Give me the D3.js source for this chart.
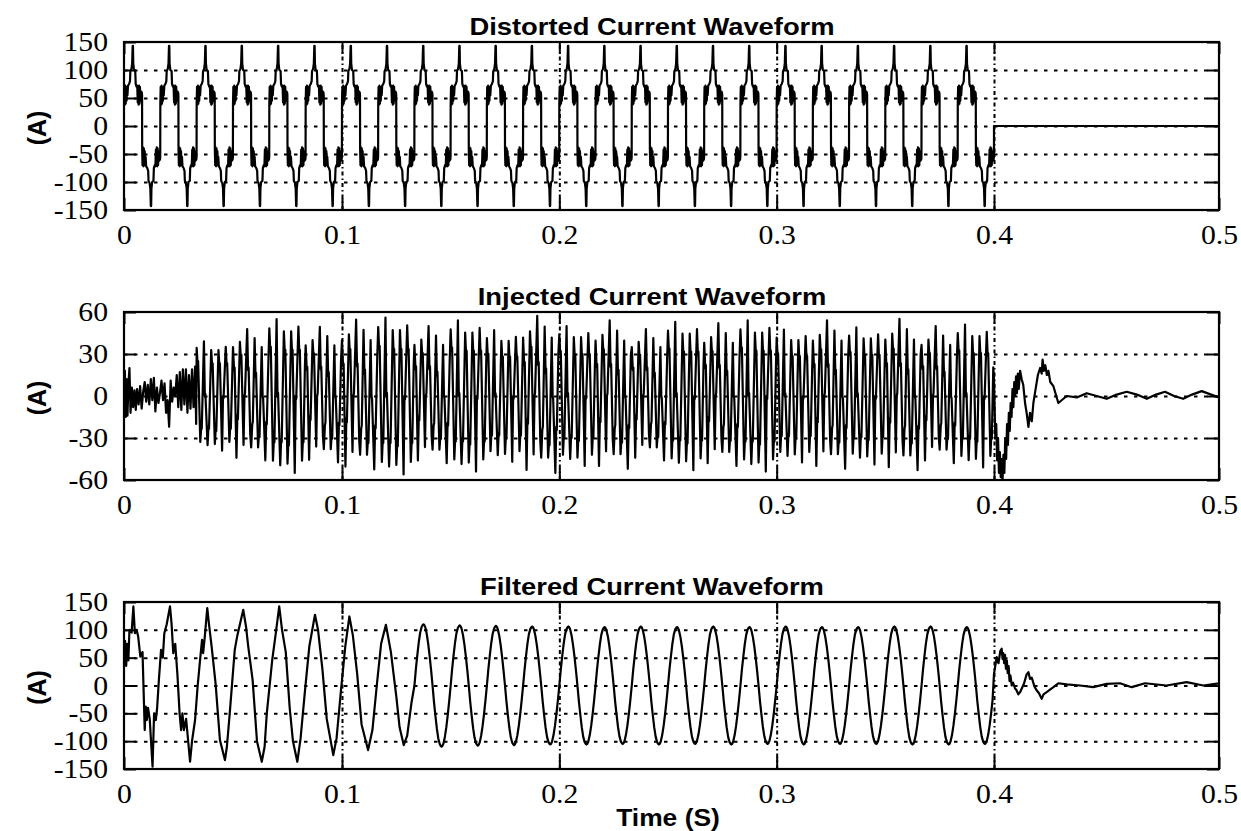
<!DOCTYPE html>
<html><head><meta charset="utf-8">
<script src="https://cdn.jsdelivr.net/npm/d3@7"></script>
<style>body{margin:0;background:#fff}</style>
</head><body>
<svg id="c" width="1241" height="831"></svg>
<script>
// ================= DATA =================
const xTicks = [0, 0.1, 0.2, 0.3, 0.4, 0.5];
const xTickLabels = ["0", "0.1", "0.2", "0.3", "0.4", "0.5"];
const titles = ["Distorted Current Waveform", "Injected Current Waveform", "Filtered Current Waveform"];
const yLabel = "(A)";
const xLabel = "Time (S)";
const yTicksTop = [150, 100, 50, 0, -50, -100, -150];
const yTicksMid = [60, 30, 0, -30, -60];
const yTicksBot = [150, 100, 50, 0, -50, -100, -150];
const lineFrequency = 60;      // Hz, cycles seen in the picture
const cyclesBeforeOff = 24;    // cycles between 0 and 0.4 s

// Distorted current: one cycle [phase, A]
const distortedCycle = [
  [0.000, 40], [0.010, 70], [0.022, 38], [0.034, 72], [0.046, 40], [0.058, 70], [0.070, 45], [0.082, 68],
  [0.095, 55], [0.110, 72], [0.140, 75], [0.165, 80], [0.175, 98], [0.205, 102], [0.225, 112], [0.238, 143],
  [0.247, 143], [0.255, 112], [0.275, 100], [0.310, 98], [0.322, 75], [0.345, 70], [0.365, 72], [0.378, 42],
  [0.390, 70], [0.402, 38], [0.414, 72], [0.426, 40], [0.438, 70], [0.450, 45], [0.465, 62], [0.490, 60], [0.497, 55],
  [0.500, -40], [0.510, -70], [0.522, -38], [0.534, -72], [0.546, -40], [0.558, -70], [0.570, -45], [0.582, -68],
  [0.595, -55], [0.610, -72], [0.640, -75], [0.665, -80], [0.675, -98], [0.705, -102], [0.725, -112], [0.738, -143],
  [0.747, -143], [0.755, -112], [0.775, -100], [0.810, -98], [0.822, -75], [0.845, -70], [0.865, -72], [0.878, -42],
  [0.890, -70], [0.902, -38], [0.914, -72], [0.926, -40], [0.938, -70], [0.950, -45], [0.965, -62], [0.990, -60], [0.997, -55]
];
const distortedAfterOff = [[0.4, -55], [0.4, 0], [0.5, 0]];

// Injected current: start-up section (0 - 1/30 s) [s, A]
const injectedStartup = [
  [0.0000, 5], [0.0004, 18], [0.0008, -15], [0.0012, 12], [0.0016, -14], [0.0020, 8], [0.0025, 20], [0.0030, -12],
  [0.0036, 6], [0.0042, -8], [0.0048, 4], [0.0054, -10], [0.0060, 5], [0.0067, -6], [0.0074, 7], [0.0081, -9],
  [0.0088, 3], [0.0095, 10], [0.0102, -4], [0.0109, 8], [0.0116, -6], [0.0123, 12], [0.0130, -3], [0.0137, 13],
  [0.0144, -11], [0.0151, 6], [0.0158, -5], [0.0165, 2], [0.0172, 11], [0.0179, -3], [0.0186, 9], [0.0193, -12],
  [0.0200, -3], [0.0207, -22], [0.0214, 11], [0.0221, -4], [0.0228, 6], [0.0235, 0], [0.0242, 15], [0.0249, -8],
  [0.0256, 17], [0.0263, -10], [0.0270, 19], [0.0277, -6], [0.0284, 19], [0.0291, -12], [0.0298, 15], [0.0305, -9],
  [0.0312, 19], [0.0319, -8], [0.0326, 21], [0.0331, -20]
];
// Injected current: two steady cycle shapes seen in the picture [phase, A]
const injectedCycleA = [
  [0.000, 44], [0.025, 30], [0.040, 32], [0.100, -42], [0.125, -28], [0.140, -30], [0.200, 50], [0.225, 0],
  [0.240, 2], [0.300, -45], [0.325, -28], [0.340, -30], [0.400, 42], [0.425, 28], [0.440, 30], [0.480, -20],
  [0.500, -44], [0.525, -30], [0.540, -32], [0.600, 42], [0.625, 28], [0.640, 30], [0.700, -50], [0.725, 0],
  [0.740, -2], [0.800, 45], [0.825, 28], [0.840, 30], [0.900, -42], [0.925, -28], [0.940, -30], [0.980, 20]
];
const injectedCycleB = [
  [0.000, 38], [0.030, 20], [0.045, 22], [0.095, -48], [0.120, -15], [0.135, -18], [0.190, 42], [0.215, 30],
  [0.230, 32], [0.290, -38], [0.315, 0], [0.330, 2], [0.390, 52], [0.415, 20], [0.430, 22], [0.475, -30],
  [0.500, -40], [0.530, -22], [0.545, -20], [0.595, 45], [0.620, 15], [0.635, 18], [0.690, -40], [0.715, -30],
  [0.730, -32], [0.790, 38], [0.815, 0], [0.830, -2], [0.890, -50], [0.915, -20], [0.930, -22], [0.975, 28]
];
// Injected current: which shape (0 = A, 1 = B) and its size, for cycles 2..23
const injectedCycleShape = [0, 1, 0, 1, 1, 0, 1, 0, 0, 1, 0, 1, 1, 0, 1, 0, 0, 1, 0, 1, 1, 0];
const injectedCycleGain = [0.78, 0.92, 1.1, 0.95, 1.05, 1.12, 0.96, 1.08, 0.94, 1.1, 1.0, 1.04, 0.92, 1.06, 1.0, 1.08, 0.95, 1.04, 0.98, 1.06, 0.96, 1.02];
// Injected current after the load is switched off [s, A]
const injectedAfterOff = [
  [0.4000, 12], [0.4006, -30], [0.4010, -20], [0.4014, -46], [0.4018, -30], [0.4022, -55], [0.4026, -40], [0.4030, -58],
  [0.4034, -45], [0.4038, -60], [0.4042, -42], [0.4046, -55], [0.4050, -30], [0.4054, -45], [0.4058, -20], [0.4062, -35],
  [0.4066, -12], [0.4070, -25], [0.4074, -5], [0.4078, -15], [0.4082, 5], [0.4086, -8], [0.4090, 10], [0.4094, 0],
  [0.4098, 14], [0.4102, 2], [0.4106, 16], [0.4110, 5], [0.4116, 18], [0.4123, 12], [0.4130, 8], [0.4138, -5],
  [0.4145, -12], [0.4153, -22], [0.4160, -12], [0.4168, -18], [0.4175, -5], [0.4182, 2], [0.4195, 15], [0.4205, 20],
  [0.4212, 16], [0.4216, 26], [0.4222, 18], [0.4228, 22], [0.4235, 15], [0.4242, 18], [0.4250, 10], [0.4264, 7],
  [0.4286, -5], [0.4323, 0], [0.4368, -1], [0.4412, 2], [0.4456, 0], [0.4501, -2], [0.4545, 1], [0.4590, 3],
  [0.4635, 1], [0.4679, -2], [0.4720, 1], [0.4760, 3], [0.4800, 0], [0.4841, -2], [0.4880, 1], [0.4923, 3.5], [0.5000, -1]
];

// Filtered current: start-up section (0 - 8/60 s) [s, A]
const filteredStartup = [
  [0, 52], [0.0005, 80], [0.001, 35], [0.0015, 75], [0.002, 45], [0.0025, 100], [0.0035, 95], [0.0043, 142],
  [0.0050, 94], [0.0058, 100], [0.0065, 88], [0.0075, 52], [0.0085, 60], [0.0095, -80], [0.0100, -38], [0.0105, -62],
  [0.0110, -40], [0.0118, -60], [0.0124, -100], [0.0131, -146], [0.0138, -50], [0.0146, -62], [0.0152, -40], [0.0160, 10],
  [0.0170, 64], [0.0178, 50], [0.0185, 94], [0.0196, 110], [0.0211, 142], [0.0218, 112], [0.0226, 58], [0.0235, 75],
  [0.0245, 20], [0.0255, -50], [0.0262, -80], [0.0268, -50], [0.0275, -80], [0.0285, -60], [0.0303, -137], [0.0312, -100],
  [0.0326, -62], [0.0338, 0], [0.0349, 46], [0.0358, 82], [0.0363, 58], [0.0370, 85], [0.0382, 139], [0.0390, 110],
  [0.0402, 70], [0.0420, 4], [0.0440, -98], [0.0463, -134], [0.0472, -110], [0.0485, -50], [0.0508, 64], [0.0520, 90],
  [0.0547, 136], [0.0560, 105], [0.0570, 70], [0.0590, 10], [0.0610, -100], [0.0632, -137], [0.0645, -110], [0.0655, -50],
  [0.0680, 46], [0.0695, 90], [0.0712, 142], [0.0725, 100], [0.0742, 60], [0.0760, -40], [0.0775, -100], [0.0795, -137],
  [0.0810, -95], [0.0830, -10], [0.0850, 70], [0.0876, 127], [0.0890, 100], [0.0910, 30], [0.0930, -60], [0.0960, -125],
  [0.0975, -95], [0.0995, -10], [0.1015, 70], [0.1034, 124], [0.1050, 90], [0.1070, 20], [0.1090, -70], [0.1120, -116],
  [0.1140, -80], [0.1160, 0], [0.1180, 75], [0.1202, 109], [0.1225, 60], [0.1250, -20], [0.1265, -75], [0.1284, -107],
  [0.1300, -90], [0.1320, -30]
];
// Filtered current: steady cycle shape, relative to the cycle peak [phase, fraction]
const filteredCycle = [
  [0.00, 0], [0.04, 0.27], [0.08, 0.50], [0.12, 0.71], [0.16, 0.87], [0.20, 0.96], [0.23, 0.99], [0.25, 1.0],
  [0.27, 0.99], [0.30, 0.95], [0.34, 0.84], [0.38, 0.68], [0.42, 0.48], [0.46, 0.25],
  [0.50, 0], [0.54, -0.27], [0.58, -0.50], [0.62, -0.71], [0.66, -0.87], [0.70, -0.96], [0.73, -0.99], [0.75, -1.0],
  [0.77, -0.99], [0.80, -0.95], [0.84, -0.84], [0.88, -0.68], [0.92, -0.48], [0.96, -0.25]
];
// Filtered current: peak value of cycles 8..23 (A)
const filteredCyclePeak = [110, 108, 107, 106, 106, 105, 106, 105, 106, 105, 106, 105, 105, 106, 106, 105];
// Filtered current after the load is switched off [s, A]
const filteredAfterOff = [
  [0.4000, 21], [0.4012, 51], [0.4020, 40], [0.4028, 62], [0.4034, 66], [0.4038, 48], [0.4041, 58], [0.4045, 40],
  [0.4049, 55], [0.4053, 30], [0.4057, 45], [0.4061, 22], [0.4065, 35], [0.4069, 8], [0.4073, 18], [0.4079, 0],
  [0.4085, 5], [0.4093, -5], [0.4101, -9], [0.4108, -16], [0.4116, -12], [0.4133, 3], [0.4145, 20], [0.4153, 24],
  [0.4160, 12], [0.4168, 14], [0.4180, -2], [0.4190, -9], [0.4200, -14], [0.4212, -24], [0.4220, -16], [0.4234, -12],
  [0.4264, -3], [0.4286, 4], [0.4323, 2], [0.4382, 0], [0.4441, -3], [0.4501, 3], [0.4560, 4], [0.4612, -3],
  [0.4671, 4], [0.4767, 0], [0.4856, 6], [0.4930, 0], [0.5000, 4]
];

// ================= BUILD SERIES =================
function tile(cycleFor, firstCycle, lastCycle, gainFn) {
  const out = [];
  for (let k = firstCycle; k <= lastCycle; k++) {
    const g = gainFn(k);
    cycleFor(k).forEach(([ph, v]) => out.push([(k + ph) / lineFrequency, v * g]));
  }
  return out;
}
const distortedSeries = tile(() => distortedCycle, 0, cyclesBeforeOff - 1, () => 1).concat(distortedAfterOff);
const injectedShapes = [injectedCycleA, injectedCycleB];
const injectedSeries = injectedStartup
  .concat(tile(k => injectedShapes[injectedCycleShape[k - 2]], 2, cyclesBeforeOff - 1, k => injectedCycleGain[k - 2]))
  .concat(injectedAfterOff);
const filteredSeries = filteredStartup
  .concat(tile(() => filteredCycle, 8, cyclesBeforeOff - 1, k => filteredCyclePeak[k - 8]))
  .concat(filteredAfterOff);

// ================= DRAW =================
const svg = d3.select("#c");
const W = 1241, H = 831;
svg.append("rect").attr("width", W).attr("height", H).attr("fill", "#fff");

// the scan is slightly stretched towards the right, follow its tick positions
const x = d3.scaleLinear().domain([0, 0.1, 0.4, 0.5]).range([124, 342, 994, 1219]);
const X0 = 124, X1 = 1219;

const panels = [
  { top: 42, bottom: 210, dom: [-150, 150], ticks: yTicksTop, title: titles[0], data: distortedSeries, titleY: 35 },
  { top: 312, bottom: 480, dom: [-60, 60], ticks: yTicksMid, title: titles[1], data: injectedSeries, titleY: 305 },
  { top: 602, bottom: 769, dom: [-150, 150], ticks: yTicksBot, title: titles[2], data: filteredSeries, titleY: 595 }
];

const SERIF = "'Liberation Serif','Times New Roman',serif";
const SANS = "'Liberation Sans',Arial,Helvetica,sans-serif";

panels.forEach((p, i) => {
  const y = d3.scaleLinear().domain(p.dom).range([p.bottom, p.top]);
  const g = svg.append("g");
  const clipId = "clip" + i;
  svg.append("clipPath").attr("id", clipId).append("rect")
    .attr("x", X0).attr("y", p.top).attr("width", X1 - X0).attr("height", p.bottom - p.top);

  // horizontal grid
  const inner = p.ticks.filter(t => t !== p.dom[0] && t !== p.dom[1]);
  g.append("g").attr("transform", `translate(${X0},0)`)
    .call(d3.axisLeft(y).tickValues(inner).tickSize(-(X1 - X0)).tickFormat(""))
    .call(s => s.select(".domain").remove())
    .call(s => s.selectAll("line").attr("stroke", "#000").attr("stroke-width", 2).attr("stroke-dasharray", "3.5,6.5"));
  // vertical grid
  const innerX = xTicks.filter(t => t > 0 && t < 0.5);
  g.append("g").attr("transform", `translate(0,${p.bottom})`)
    .call(d3.axisBottom(x).tickValues(innerX).tickSize(-(p.bottom - p.top)).tickFormat(""))
    .call(s => s.select(".domain").remove())
    .call(s => s.selectAll("line").attr("stroke", "#000").attr("stroke-width", 2).attr("stroke-dasharray", "4,3,1.5,3"));

  // inside ticks
  const tl = 12;
  const styleTicks = s => { s.select(".domain").remove(); s.selectAll("line").attr("stroke", "#000").attr("stroke-width", 2); };
  g.append("g").attr("transform", `translate(${X0},0)`).call(d3.axisLeft(y).tickValues(p.ticks).tickSize(-tl).tickFormat("")).call(styleTicks);
  g.append("g").attr("transform", `translate(${X1},0)`).call(d3.axisRight(y).tickValues(p.ticks).tickSize(-tl).tickFormat("")).call(styleTicks);
  g.append("g").attr("transform", `translate(0,${p.bottom})`).call(d3.axisBottom(x).tickValues(xTicks).tickSize(-tl).tickFormat("")).call(styleTicks);
  g.append("g").attr("transform", `translate(0,${p.top})`).call(d3.axisTop(x).tickValues(xTicks).tickSize(-tl).tickFormat("")).call(styleTicks);

  // trace
  g.append("path").datum(p.data)
    .attr("clip-path", `url(#${clipId})`)
    .attr("fill", "none").attr("stroke", "#000").attr("stroke-width", 2.2)
    .attr("stroke-linejoin", "round")
    .attr("d", d3.line().x(d => x(d[0])).y(d => y(d[1])));

  // box
  g.append("rect").attr("x", X0).attr("y", p.top).attr("width", X1 - X0).attr("height", p.bottom - p.top)
    .attr("fill", "none").attr("stroke", "#000").attr("stroke-width", 2.2);

  // y tick labels
  const ya = g.append("g").attr("transform", `translate(${X0},0)`)
    .call(d3.axisLeft(y).tickValues(p.ticks).tickSize(0).tickPadding(14.5).tickFormat(d => d3.format("d")(d).replace("−", "-")));
  ya.select(".domain").remove();
  ya.selectAll("text").attr("font-family", SERIF).attr("font-size", 27).attr("fill", "#000")
    .attr("transform", "scale(1.1,1)");
  // x tick labels
  const xa = g.append("g").attr("transform", `translate(0,${p.bottom})`)
    .call(d3.axisBottom(x).tickValues(xTicks).tickSize(0).tickPadding(15).tickFormat((d, j) => xTickLabels[j]));
  xa.select(".domain").remove();
  xa.selectAll("text").attr("font-family", SERIF).attr("font-size", 27).attr("fill", "#000")
    .attr("transform", "scale(1.1,1)");

  // title
  svg.append("text").attr("transform", `translate(652,${p.titleY}) scale(1.14,1)`)
    .attr("text-anchor", "middle").attr("font-family", SANS).attr("font-weight", "bold")
    .attr("font-size", 24).attr("fill", "#000").text(p.title);

  // y label
  svg.append("text").attr("transform", `translate(46,${(p.top + p.bottom) / 2 + 2}) rotate(-90)`)
    .attr("text-anchor", "middle").attr("font-family", SANS).attr("font-weight", "bold")
    .attr("font-size", 25).attr("fill", "#000").text(yLabel);
});

svg.append("text").attr("transform", `translate(668,826) scale(1.1,1)`)
  .attr("text-anchor", "middle").attr("font-family", SANS).attr("font-weight", "bold")
  .attr("font-size", 24).attr("fill", "#000").text(xLabel);
</script>
</body></html>
